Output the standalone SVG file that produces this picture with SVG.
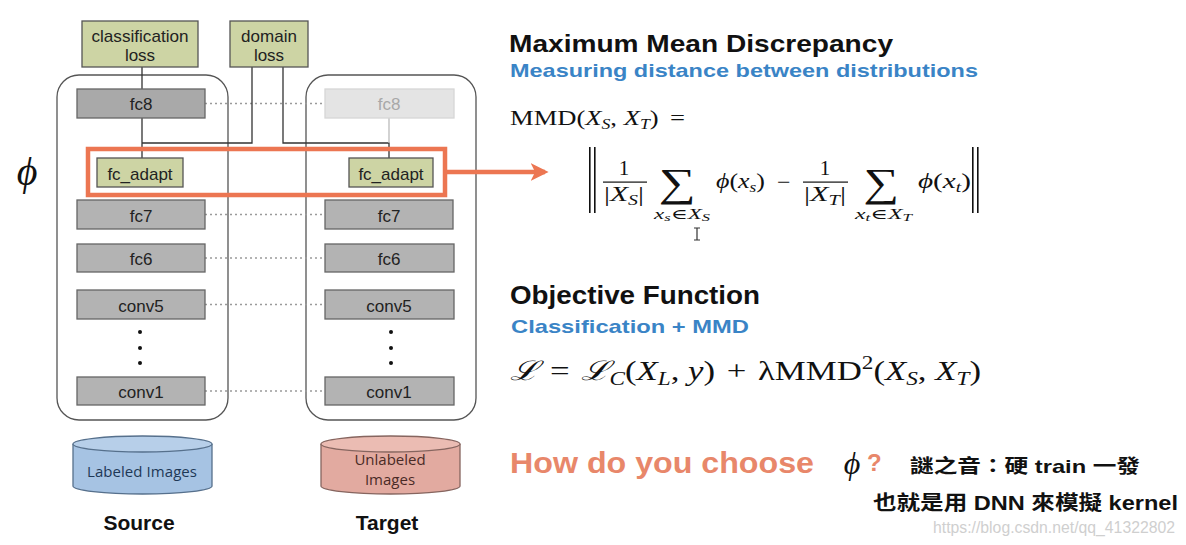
<svg xmlns="http://www.w3.org/2000/svg" width="1186" height="545" viewBox="0 0 1186 545">
<style>
.sans{font-family:"Liberation Sans",Arial,sans-serif}
.math{font-family:"Liberation Serif","DejaVu Serif",serif;fill:#111}
.it{font-style:italic}
.loss rect{fill:#cdd4a4;stroke:#555;stroke-width:1.3}
.loss text,.layer text{font-family:"Liberation Sans",Arial,sans-serif;font-size:17px;fill:#222;text-anchor:middle}
.layer rect{fill:#b3b3b3;stroke:#666;stroke-width:1.3}
.ada rect{fill:#cdd4a4;stroke:#555;stroke-width:1.3}
.ghost rect{fill:#e4e4e4;stroke:#d6d6d6;stroke-width:1.3}
.ghost text{fill:#a8a8a8}
.cont{fill:none;stroke:#555;stroke-width:1.3}
.dot{stroke:#9a9a9a;stroke-width:1.3;stroke-dasharray:2 3;fill:none}
.wire{stroke:#333;stroke-width:1.3;fill:none}
.head{font-family:"Liberation Sans",Arial,sans-serif;font-weight:bold;fill:#111}
.sub{font-family:"Liberation Sans",Arial,sans-serif;font-weight:bold;fill:#3a84c6}
.cjk{font-family:"Liberation Sans","Noto Sans CJK TC",sans-serif;font-weight:bold;fill:#111}
</style>
<defs>
<marker id="arr" viewBox="0 0 10 10" refX="8" refY="5" markerWidth="4" markerHeight="4" orient="auto" markerUnits="strokeWidth">
<path d="M0,0 L10,5 L0,10 L2.5,5 z" fill="#ec7652"/>
</marker>
</defs>

<!-- containers -->
<rect id="source-net" class="cont" x="57" y="75" width="171" height="345" rx="22"/>
<rect id="target-net" class="cont" x="306" y="75" width="170" height="345" rx="22"/>

<g id="connectors">
<line class="dot" x1="205" y1="103.5" x2="325" y2="103.5"/>
<line class="dot" x1="205" y1="214.5" x2="325" y2="214.5"/>
<line class="dot" x1="205" y1="258" x2="325" y2="258"/>
<line class="dot" x1="205" y1="304.5" x2="325" y2="304.5"/>
<line class="dot" x1="205" y1="391" x2="325" y2="391"/>
<path class="wire" d="M142,67 V89 M142,118 V158 M142,143 H252 V67 M283,67 V143 H389 V158"/>
<line x1="389" y1="118" x2="389" y2="143" stroke="#bbb" stroke-width="1.3"/>
<line x1="447" y1="172" x2="545" y2="172" stroke="#ec7652" stroke-width="4.5" marker-end="url(#arr)"/>
</g>

<g id="classification-loss" class="loss">
<rect x="82" y="21" width="116" height="46"/>
<text x="140" y="42" textLength="97" lengthAdjust="spacingAndGlyphs">classification</text>
<text x="140" y="61">loss</text>
</g>
<g id="domain-loss" class="loss">
<rect x="230" y="21" width="78" height="46"/>
<text x="269" y="42">domain</text>
<text x="269" y="61">loss</text>
</g>

<g id="src-fc8" class="layer"><rect x="77" y="89" width="128" height="29" style="fill:#a9a9a9"/><text x="141" y="110">fc8</text></g>
<g id="tgt-fc8" class="layer ghost"><rect x="325" y="89" width="129" height="29"/><text x="389" y="110">fc8</text></g>

<g id="src-fc_adapt" class="layer ada"><rect x="97" y="158" width="86" height="29"/><text x="140" y="180">fc_adapt</text></g>
<g id="tgt-fc_adapt" class="layer ada"><rect x="349" y="158" width="84" height="29"/><text x="391" y="180">fc_adapt</text></g>

<g id="src-fc7" class="layer"><rect x="77" y="200" width="128" height="29"/><text x="141" y="222">fc7</text></g>
<g id="tgt-fc7" class="layer"><rect x="325" y="200" width="128" height="29"/><text x="389" y="222">fc7</text></g>
<g id="src-fc6" class="layer"><rect x="77" y="244" width="128" height="28"/><text x="141" y="265">fc6</text></g>
<g id="tgt-fc6" class="layer"><rect x="325" y="244" width="129" height="28"/><text x="389" y="265">fc6</text></g>
<g id="src-conv5" class="layer"><rect x="77" y="290" width="128" height="29"/><text x="141" y="312">conv5</text></g>
<g id="tgt-conv5" class="layer"><rect x="325" y="290" width="129" height="29"/><text x="389" y="312">conv5</text></g>
<g id="src-conv1" class="layer"><rect x="77" y="377" width="128" height="28"/><text x="141" y="398">conv1</text></g>
<g id="tgt-conv1" class="layer"><rect x="325" y="377" width="129" height="28"/><text x="389" y="398">conv1</text></g>

<g id="ellipsis" fill="#111">
<circle cx="140" cy="332" r="2"/><circle cx="140" cy="348" r="2"/><circle cx="140" cy="363" r="2"/>
<circle cx="391" cy="332" r="2"/><circle cx="391" cy="348" r="2"/><circle cx="391" cy="363" r="2"/>
</g>

<g id="phi-box">
<rect x="88" y="149" width="357" height="46" fill="none" stroke="#ec7652" stroke-width="4.5"/>
</g>
<text id="phi-label" class="math it" x="27" y="185" font-size="40" text-anchor="middle">ϕ</text>

<g id="labeled-images">
<path d="M73,444 V486 A69.5,8 0 0 0 212,486 V444" fill="#a6c3e3" stroke="#56708c" stroke-width="1.3"/>
<ellipse cx="142.5" cy="444" rx="69.5" ry="8" fill="#b7cfe9" stroke="#56708c" stroke-width="1.3"/>
<text x="142" y="477" font-family="'Open Sans','Noto Sans',sans-serif" font-size="15" fill="#1e3856" text-anchor="middle" textLength="110">Labeled Images</text>
</g>
<g id="unlabeled-images">
<path d="M321,444 V486 A69.5,8 0 0 0 460,486 V444" fill="#e2aaa0" stroke="#86655f" stroke-width="1.3"/>
<ellipse cx="390.5" cy="444" rx="69.5" ry="8" fill="#ebbcb3" stroke="#86655f" stroke-width="1.3"/>
<text x="390" y="465" font-family="'Open Sans','Noto Sans',sans-serif" font-size="15" fill="#4a2a26" text-anchor="middle">Unlabeled</text>
<text x="390" y="485" font-family="'Open Sans','Noto Sans',sans-serif" font-size="15" fill="#4a2a26" text-anchor="middle">Images</text>
</g>
<text class="head" x="139" y="530" font-size="21" text-anchor="middle">Source</text>
<text class="head" x="387" y="530" font-size="21" text-anchor="middle">Target</text>

<!-- right side -->
<text class="head" x="509" y="52" font-size="24" textLength="384" lengthAdjust="spacingAndGlyphs">Maximum Mean Discrepancy</text>
<text class="sub" x="510" y="77" font-size="19" textLength="468" lengthAdjust="spacingAndGlyphs">Measuring distance between distributions</text>

<text id="mmd-def" class="math" x="510" y="125" font-size="21" textLength="175" lengthAdjust="spacingAndGlyphs">MMD(<tspan class="it">X</tspan><tspan class="it" font-size="14" dy="4">S</tspan><tspan dy="-4">, </tspan><tspan class="it">X</tspan><tspan class="it" font-size="14" dy="4">T</tspan><tspan dy="-4">)</tspan><tspan dx="9">=</tspan></text>

<g id="mmd-norm" class="math" font-size="21">
<rect x="589" y="147" width="1.6" height="66" fill="#111"/>
<rect x="594" y="147" width="1.6" height="66" fill="#111"/>
<text x="624" y="175" text-anchor="middle">1</text>
<rect x="603" y="181.5" width="44" height="1.2" fill="#111"/>
<text x="604" y="201" textLength="40" lengthAdjust="spacingAndGlyphs">|<tspan class="it">X</tspan><tspan class="it" font-size="14" dy="4">S</tspan><tspan dy="-4">|</tspan></text>
<text transform="translate(677,196) scale(1.3,1)" text-anchor="middle" font-size="40">∑</text>
<text x="654" y="219" font-size="14" textLength="56" lengthAdjust="spacingAndGlyphs"><tspan class="it">x</tspan><tspan class="it" font-size="10" dy="2">s</tspan><tspan dy="-2">∈</tspan><tspan class="it">X</tspan><tspan class="it" font-size="10" dy="2">S</tspan></text>
<text x="716" y="188" textLength="49" lengthAdjust="spacingAndGlyphs"><tspan class="it">ϕ</tspan>(<tspan class="it">x</tspan><tspan class="it" font-size="14" dy="4">s</tspan><tspan dy="-4">)</tspan></text>
<text x="777" y="190" font-size="24">−</text>
<text x="825" y="175" text-anchor="middle">1</text>
<rect x="803" y="181.5" width="45" height="1.2" fill="#111"/>
<text x="804" y="201" textLength="42" lengthAdjust="spacingAndGlyphs">|<tspan class="it">X</tspan><tspan class="it" font-size="14" dy="4">T</tspan><tspan dy="-4">|</tspan></text>
<text transform="translate(881,196) scale(1.25,1)" text-anchor="middle" font-size="40">∑</text>
<text x="855" y="219" font-size="14" textLength="57" lengthAdjust="spacingAndGlyphs"><tspan class="it">x</tspan><tspan class="it" font-size="10" dy="2">t</tspan><tspan dy="-2">∈</tspan><tspan class="it">X</tspan><tspan class="it" font-size="10" dy="2">T</tspan></text>
<text x="918" y="188" textLength="53" lengthAdjust="spacingAndGlyphs"><tspan class="it">ϕ</tspan>(<tspan class="it">x</tspan><tspan class="it" font-size="14" dy="4">t</tspan><tspan dy="-4">)</tspan></text>
<rect x="972" y="147" width="1.6" height="66" fill="#111"/>
<rect x="977" y="147" width="1.6" height="66" fill="#111"/>
</g>
<path id="cursor" d="M694,228 H700 M697,228 V240 M694,240 H700" stroke="#333" stroke-width="1.2" fill="none"/>

<text class="head" x="510" y="304" font-size="25" textLength="250" lengthAdjust="spacingAndGlyphs">Objective Function</text>
<text class="sub" x="511" y="333" font-size="19" textLength="238" lengthAdjust="spacingAndGlyphs">Classification + MMD</text>

<text id="objective" class="math" x="510" y="380" font-size="27" textLength="471" lengthAdjust="spacingAndGlyphs"><tspan class="it">ℒ</tspan><tspan dx="9">=</tspan><tspan dx="9" class="it">ℒ</tspan><tspan class="it" font-size="18" dy="5">C</tspan><tspan dy="-5">(</tspan><tspan class="it">X</tspan><tspan class="it" font-size="18" dy="5">L</tspan><tspan dy="-5">, </tspan><tspan class="it">y</tspan>)<tspan dx="9">+</tspan><tspan dx="9">λMMD</tspan><tspan font-size="18" dy="-11">2</tspan><tspan dy="11">(</tspan><tspan class="it">X</tspan><tspan class="it" font-size="18" dy="5">S</tspan><tspan dy="-5">, </tspan><tspan class="it">X</tspan><tspan class="it" font-size="18" dy="5">T</tspan><tspan dy="-5">)</tspan></text>

<text x="510" y="473" font-family="'Liberation Sans',Arial,sans-serif" font-weight="bold" font-size="29" fill="#e8876a" textLength="304" lengthAdjust="spacingAndGlyphs">How do you choose</text>
<text class="math it" x="852" y="474" font-size="32" text-anchor="middle">ϕ</text>
<text x="867" y="471" font-family="'Liberation Sans',Arial,sans-serif" font-weight="bold" font-size="24" fill="#e8876a">?</text>
<text class="cjk" x="910" y="473" font-size="19" textLength="230" lengthAdjust="spacingAndGlyphs">謎之音：硬 train 一發</text>
<text class="cjk" x="873" y="510" font-size="20" textLength="305" lengthAdjust="spacingAndGlyphs">也就是用 DNN 來模擬 kernel</text>
<text x="933" y="533" font-family="'Liberation Sans',Arial,sans-serif" font-size="16" fill="#cfcfcf" textLength="242" lengthAdjust="spacingAndGlyphs">https://blog.csdn.net/qq_41322802</text>
</svg>
